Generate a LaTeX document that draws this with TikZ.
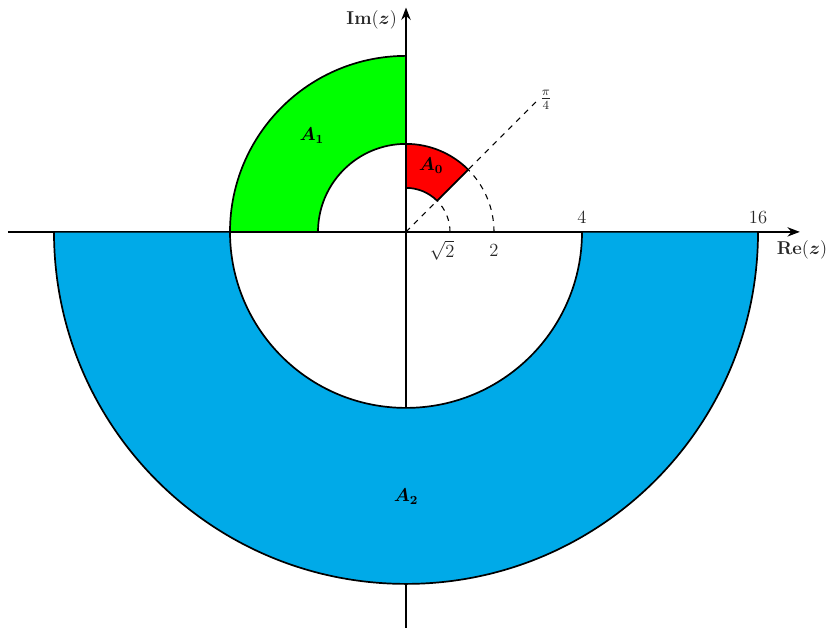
\documentclass[tikz,border=0pt]{standalone}
\usepackage{amsmath,amssymb,bm}
\usetikzlibrary{arrows.meta}
\definecolor{regred}{RGB}{255,0,0}
\definecolor{reggreen}{RGB}{0,255,0}
\definecolor{regblue}{RGB}{0,170,232}
\begin{document}
\begin{tikzpicture}[x=1cm,y=1cm,font=\large,
  region/.style={draw=black,line width=1.1pt,line join=round},
  axis/.style={line width=1.3pt,-{Stealth[length=8pt,width=6pt]}},
  guide/.style={dash pattern=on 3.6pt off 3.6pt,line width=0.7pt},
  lbl/.style={inner sep=1pt,text=black!85}]
\useasboundingbox (-9.227,-9.0) rectangle (9.59,5.27);
% guides
\coordinate (O) at (0,0);
\coordinate (R) at (3,3);
\draw[guide] (O) -- (R);
\draw[guide] (1,0) arc[start angle=0,end angle=45,radius=1];
\draw[guide] (2,0) arc[start angle=0,end angle=45,radius=2];
% axes
\coordinate (xl) at (-9.05,0);
\coordinate (xr) at (8.95,0);
\coordinate (yb) at (0,-9.0);
\coordinate (yt) at (0,5.1);
\draw[axis] (xl) -- (xr);
\draw[axis] (yb) -- (yt);
% regions
\path[region,fill=regblue] (-8,0) arc[start angle=180,end angle=360,radius=8] -- (4,0) arc[start angle=360,end angle=180,radius=4] -- cycle;
\path[region,fill=reggreen] (0,4) arc[start angle=90,end angle=180,radius=4] -- (-2,0) arc[start angle=180,end angle=90,radius=2] -- cycle;
\path[region,fill=regred] (0,2) arc[start angle=90,end angle=45,radius=2] -- (45:1) arc[start angle=45,end angle=90,radius=1] -- cycle;
% labels
\node[lbl] (lim) at (-0.78,4.82) {\textbf{Im}$(\bm{z})$};
\node[lbl] (lre) at (9.0,-0.41) {\textbf{Re}$(\bm{z})$};
\node[lbl] (l4) at (4,0.33) {$4$};
\node[lbl] (l16) at (8,0.33) {$16$};
\node[lbl] (ls2) at (0.82,-0.42) {$\sqrt{2}$};
\node[lbl] (l2) at (2,-0.42) {$2$};
\node[lbl] (lpi) at (3.18,3.0) {$\frac{\pi}{4}$};
\node (a0) at (0.57,1.5) {$\bm{A_0}$};
\node (a1) at (-2.14,2.18) {$\bm{A_1}$};
\node (a2) at (0,-6.02) {$\bm{A_2}$};
\end{tikzpicture}
\end{document}
